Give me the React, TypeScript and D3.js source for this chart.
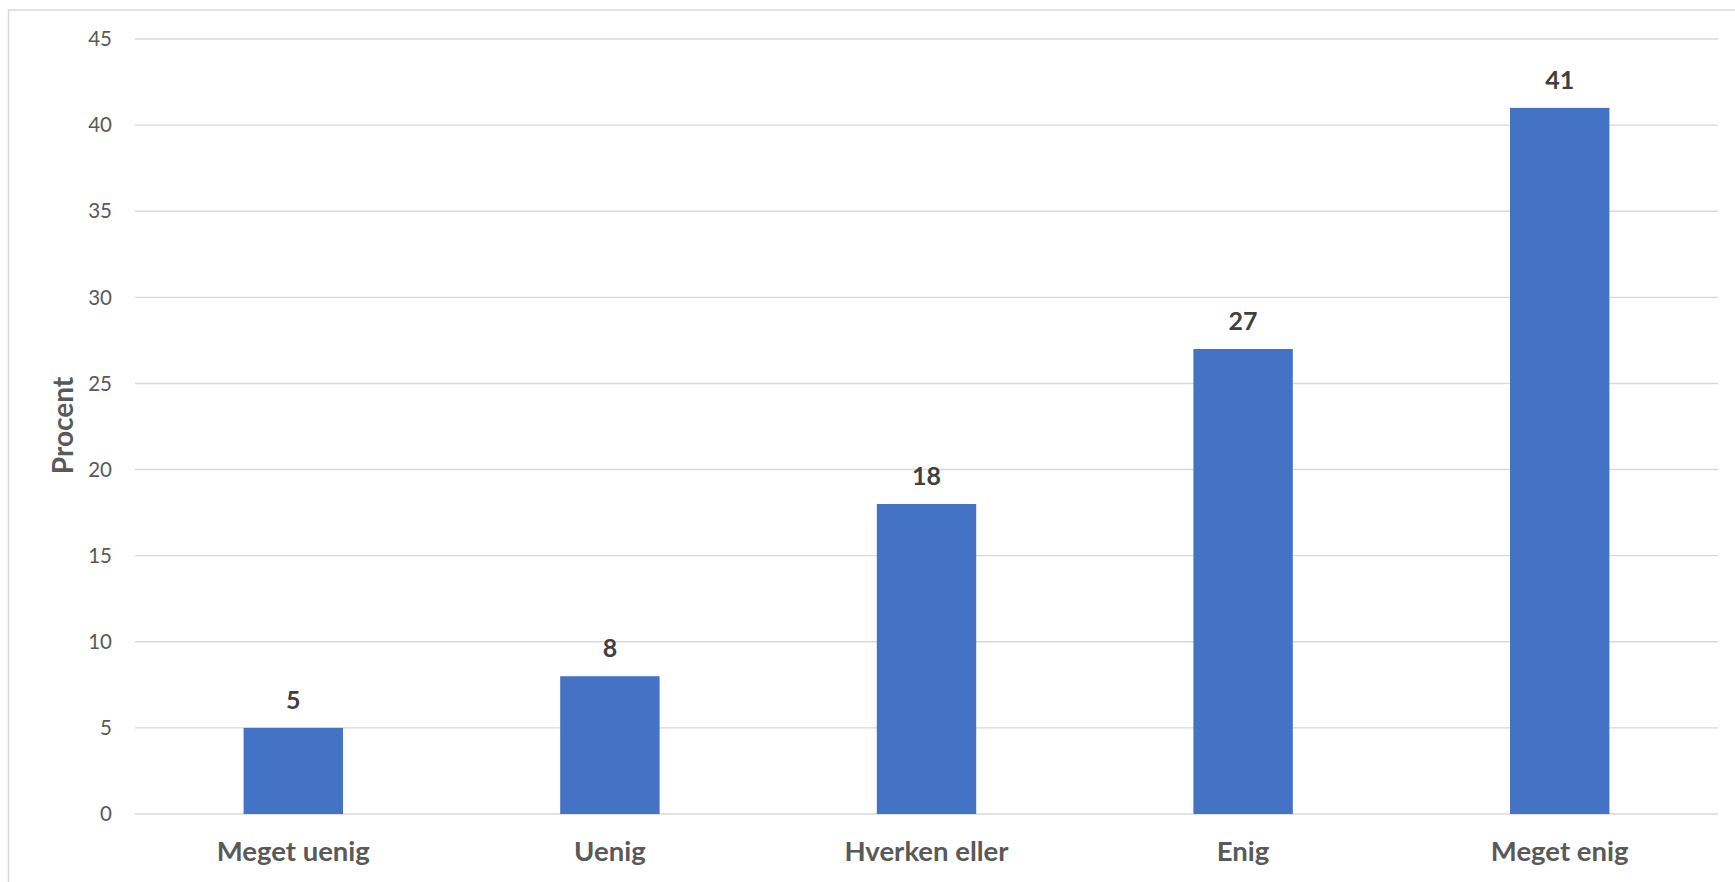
import React from "react";
import * as d3 from "d3";

const categories = ["Meget uenig", "Uenig", "Hverken eller", "Enig", "Meget enig"];
const values = [5, 8, 18, 27, 41];
const yTicks = [0, 5, 10, 15, 20, 25, 30, 35, 40, 45];
const yTitle = "Procent";

const W = 1735;
const H = 882;
const plot = { left: 135, right: 1718, top: 39, bottom: 814 };
const FONT = "Lato, 'Open Sans', sans-serif";

export default function App() {
  const x = d3
    .scaleBand<string>()
    .domain(categories)
    .range([plot.left, plot.right])
    .paddingInner(0.686)
    .paddingOuter(0.343);
  const y = d3.scaleLinear().domain([0, 45]).range([plot.bottom, plot.top]);

  return (
    <svg
      width={W}
      height={H}
      style={{ position: "fixed", left: 0, top: 0, background: "#fff" }}
    >
      <rect x={0} y={0} width={W} height={H} fill="#fff" />
      <rect x={8.5} y={10} width={2000} height={2000} fill="none" stroke="#d9d9d9" strokeWidth={1.5} />
      {yTicks.map((t) => (
        <g key={t}>
          <line
            x1={plot.left}
            x2={plot.right}
            y1={y(t)}
            y2={y(t)}
            stroke="#d9d9d9"
            strokeWidth={1.4}
          />
          <text
            x={112}
            y={y(t)}
            dy="0.35em"
            textAnchor="end"
            fontFamily={FONT}
            fontSize={20.5}
            fill="#595959"
          >
            {t}
          </text>
        </g>
      ))}
      {categories.map((c, i) => (
        <g key={c}>
          <rect
            x={x(c)}
            y={y(values[i])}
            width={x.bandwidth()}
            height={y(0) - y(values[i])}
            fill="#4472C4"
          />
          <text
            x={(x(c) as number) + x.bandwidth() / 2}
            y={y(values[i]) - 19}
            textAnchor="middle"
            fontFamily={FONT}
            fontWeight="bold"
            fontSize={25}
            fill="#404040"
          >
            {values[i]}
          </text>
          <text
            x={(x(c) as number) + x.bandwidth() / 2}
            y={861}
            textAnchor="middle"
            fontFamily={FONT}
            fontWeight="bold"
            fontSize={27.5}
            fill="#595959"
          >
            {c}
          </text>
        </g>
      ))}
      <text
        transform={`translate(72.5, ${425.5}) rotate(-90)`}
        textAnchor="middle"
        fontFamily={FONT}
        fontWeight="bold"
        fontSize={28}
        fill="#595959"
      >
        {yTitle}
      </text>
    </svg>
  );
}
